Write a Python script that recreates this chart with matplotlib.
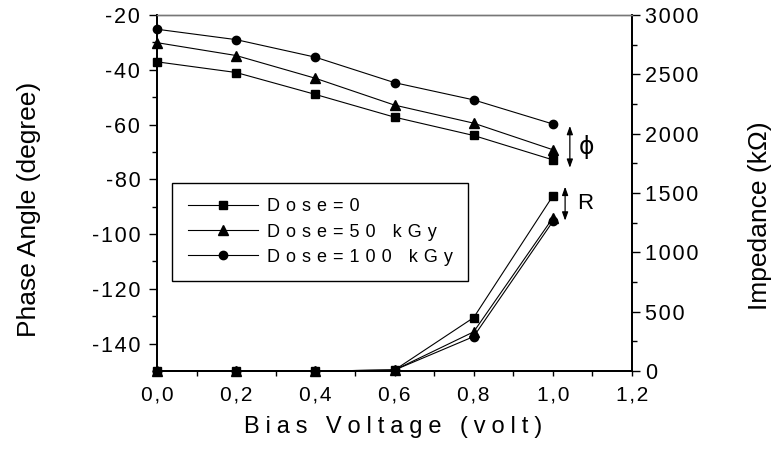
"""
Phase angle and impedance vs bias voltage for three irradiation doses.
"""
import matplotlib
matplotlib.use("Agg")
import matplotlib.pyplot as plt
from matplotlib.ticker import MultipleLocator

plt.rcParams['font.family'] = ['Liberation Sans', 'DejaVu Sans']

voltage = [0.0, 0.2, 0.4, 0.6, 0.8, 1.0]

# phase angle (degree), left axis
phase_0 = [-37.1, -41.0, -49.0, -57.3, -64.0, -72.9]
phase_50 = [-30.1, -34.8, -43.1, -52.9, -59.5, -69.2]
phase_100 = [-25.2, -29.0, -35.4, -44.7, -51.0, -59.8]

# impedance (kOhm), right axis
imp_0 = [0, 0, 0, 8, 450, 1475]
imp_50 = [0, 0, 0, 8, 330, 1290]
imp_100 = [0, 0, 0, 8, 290, 1260]

doses = ["Dose=0", "Dose=50 kGy", "Dose=100 kGy"]
markers = ["s", "^", "o"]
msizes = [5.5, 6.5, 6.0]

x_ticks = [0.0, 0.2, 0.4, 0.6, 0.8, 1.0, 1.2]
x_labels = ["0,0", "0,2", "0,4", "0,6", "0,8", "1,0", "1,2"]
phase_ticks = [-140, -120, -100, -80, -60, -40, -20]
imp_ticks = [0, 500, 1000, 1500, 2000, 2500, 3000]

HAIR = "\u200a"


def spaced(s, gap=HAIR):
    # the original uses wide letter spacing
    return gap.join(s)


fig = plt.figure(figsize=(7.74, 4.5), dpi=100)
ax = fig.add_axes([157 / 774, 1 - 371 / 450, 475 / 774, 356 / 450])
ax2 = ax.twinx()

for ph, mk, ms in zip([phase_0, phase_50, phase_100], markers, msizes):
    ax.plot(voltage, ph, color="black", lw=0.8, marker=mk, ms=ms, clip_on=False)

handles = []
for imp, mk, ms in zip([imp_0, imp_50, imp_100], markers, msizes):
    h, = ax2.plot(voltage, imp, color="black", lw=0.8, marker=mk, ms=ms,
                  clip_on=False)
    handles.append(h)

ax.set_xlim(0, 1.2)
ax.set_ylim(-150, -20)
ax2.set_ylim(0, 3000)

ax.set_xticks(x_ticks)
ax.set_xticklabels([spaced(t) for t in x_labels])
ax.xaxis.set_minor_locator(MultipleLocator(0.1))
ax.set_yticks(phase_ticks)
ax.set_yticklabels([spaced(str(t)) for t in phase_ticks])
ax.yaxis.set_minor_locator(MultipleLocator(10))
ax2.set_yticks(imp_ticks)
ax2.set_yticklabels([spaced(str(t)) for t in imp_ticks])
ax2.yaxis.set_minor_locator(MultipleLocator(250))

ax.tick_params(axis="x", which="both", direction="out", length=3.5, width=1,
               labelsize=15, pad=7)
ax.tick_params(axis="y", which="major", direction="out", length=6, width=1,
               labelsize=15.5, pad=6)
ax.tick_params(axis="y", which="minor", direction="out", length=3.5, width=1)
ax2.tick_params(axis="y", which="major", direction="out", length=6, width=1,
                labelsize=15.5, pad=3.5)
ax2.tick_params(axis="y", which="minor", direction="out", length=3.5, width=1)

for a in (ax, ax2):
    a.spines["top"].set_color("#777777")
    a.spines["top"].set_linewidth(1.0)
    for s in ("left", "right", "bottom"):
        a.spines[s].set_linewidth(1.3)

ax.set_ylabel("Phase Angle (degree)", fontsize=19)
ax.yaxis.set_label_coords(-0.245, 0.455)
ax2.set_ylabel("Impedance (k\u03a9)", fontsize=19)
ax2.yaxis.set_label_coords(1.245, 0.435)
ax.set_xlabel(spaced("Bias Voltage (volt)", "\u2005"), fontsize=17)
ax.xaxis.set_label_coords(0.497, -0.125)

leg = ax2.legend(handles, [spaced(d, "\u2004") for d in doses],
                 loc="upper left", bbox_to_anchor=(0.032, 0.528),
                 borderaxespad=0, fontsize=13, handlelength=3.9,
                 handletextpad=0.5, labelspacing=0.45, borderpad=0.85,
                 fancybox=False, edgecolor="black", framealpha=1)
leg.get_frame().set_linewidth(1.0)

# range markers at the right end
arrow = dict(arrowstyle="<|-|>,head_length=0.5,head_width=0.18",
             color="black", lw=0.9, shrinkA=0, shrinkB=0)
ax.annotate("", xy=(1.043, -60.5), xytext=(1.043, -75.8), arrowprops=arrow,
            annotation_clip=False)
ax.text(1.086, -68.3, "\u03d5", fontsize=17, ha="center", va="center",
        family=["DejaVu Sans"])
ax.annotate("", xy=(1.031, -82.7), xytext=(1.031, -95.1), arrowprops=arrow,
            annotation_clip=False)
ax.text(1.081, -89.0, "R", fontsize=16, ha="center", va="center")

fig.savefig("out.png", dpi=100)
